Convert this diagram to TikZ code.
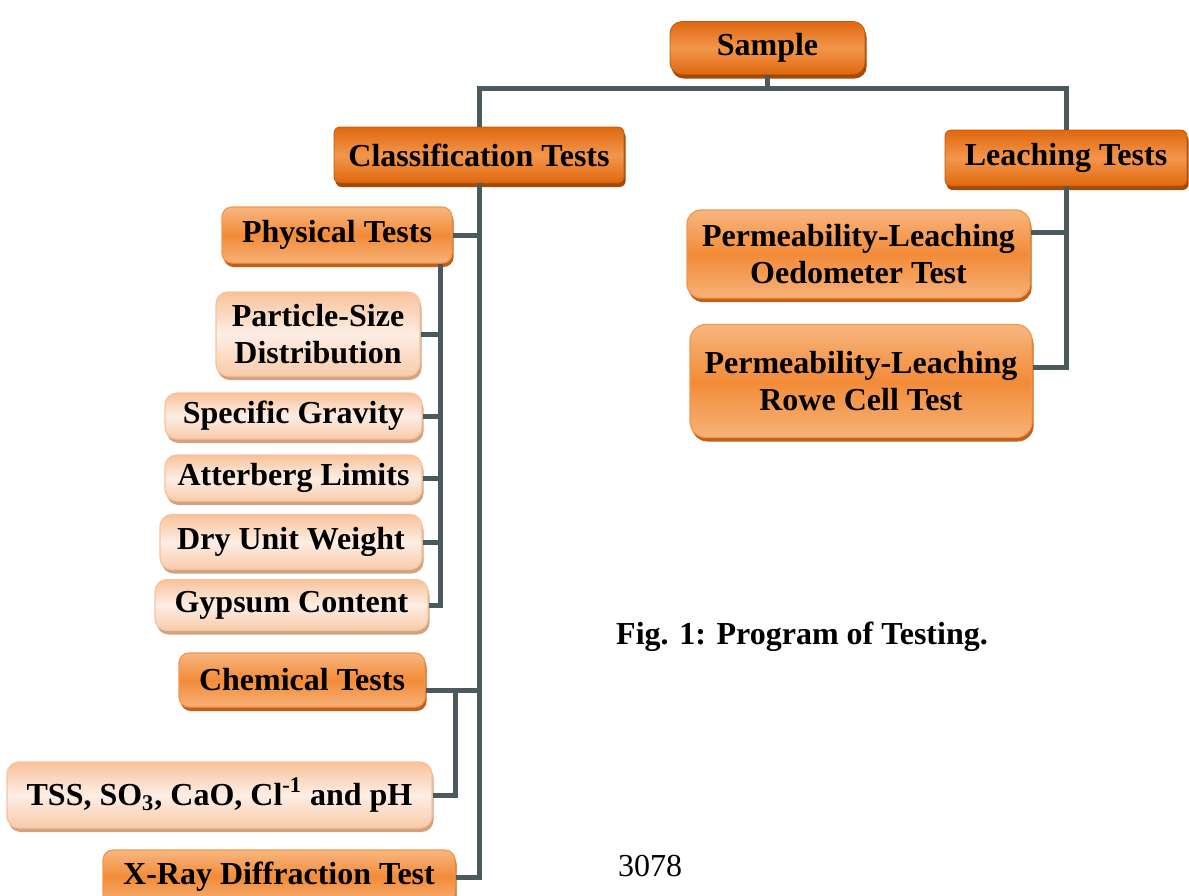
\documentclass[tikz,border=0pt]{standalone}
\usepackage{fontspec}
\setmainfont{Liberation Serif}
\usetikzlibrary{shadows}

\definecolor{linegray}{HTML}{4B5A5C}
\definecolor{darkor}{HTML}{E0680E}
\definecolor{darkormid}{HTML}{F2964C}
\definecolor{darkorsh}{HTML}{A34A08}
\definecolor{midor}{HTML}{F8B680}
\definecolor{midormid}{HTML}{F28B38}
\definecolor{midorsh}{HTML}{C0601A}
\definecolor{lightor}{HTML}{F8C29A}
\definecolor{lightormid}{HTML}{FDEEE5}
\definecolor{lightorsh}{HTML}{D0A386}

\tikzset{
  box/.style={inner sep=0pt, align=center, font=\fontsize{16}{18.5}\selectfont\bfseries},
  darkbox/.style={box, rounded corners=3pt, top color=darkor, bottom color=darkor, middle color=darkormid,
    draw=darkor!85!black, line width=0.4pt,
    general shadow={fill=darkorsh, shadow yshift=-2pt, shadow xshift=0.8pt}},
  midbox/.style={box, rounded corners=5pt, top color=midor, bottom color=midor!90!midormid, middle color=midormid,
    draw=midormid!90!white, line width=0.6pt,
    general shadow={fill=midorsh, shadow yshift=-2pt, shadow xshift=0.8pt}},
  lightbox/.style={box, rounded corners=6pt, top color=lightor, bottom color=lightor!80!lightormid, middle color=lightormid,
    draw=lightor, line width=0.6pt,
    general shadow={fill=lightorsh, shadow yshift=-2pt, shadow xshift=0.8pt}},
  link/.style={draw=linegray, line width=2.5pt},
}

\begin{document}
\begin{tikzpicture}[x=0.5pt,y=-0.5pt]
\useasboundingbox (0,0) rectangle (1189,895);

% top level
\node[darkbox, rounded corners=6pt, minimum width=97.5pt, minimum height=26.5pt] (sample) at (767.5,48) {Sample};
\node[darkbox, minimum width=145pt, minimum height=28pt] (classif) at (479,155) {Classification Tests};
\node[darkbox, minimum width=121pt, minimum height=28pt] (leach) at (1066,158) {Leaching Tests};

% classification branch
\node[midbox, minimum width=115pt, minimum height=28pt] (phys) at (337,235) {Physical Tests};
\node[lightbox, minimum width=102pt, minimum height=42pt] (psd) at (318,334) {Particle-Size\\Distribution};
\node[lightbox, minimum width=128.5pt, minimum height=23pt] (sg) at (293.5,416) {Specific Gravity};
\node[lightbox, minimum width=128.5pt, minimum height=23pt] (al) at (293.5,478) {Atterberg Limits};
\node[lightbox, minimum width=131pt, minimum height=27.5pt] (duw) at (291,542) {Dry Unit Weight};
\node[lightbox, minimum width=136.5pt, minimum height=25.5pt] (gyp) at (291.5,605) {Gypsum Content};
\node[midbox, minimum width=123pt, minimum height=27pt] (chem) at (302,680) {Chemical Tests};
\node[lightbox, minimum width=212.5pt, minimum height=33pt] (tss) at (219.5,795)
  {TSS, SO\textsubscript{3}, CaO, Cl\textsuperscript{-1} and pH};
\node[midbox, minimum width=176pt, minimum height=27pt] (xrd) at (279,877) {X-Ray Diffraction Test};

% leaching branch
\node[midbox, rounded corners=7pt, minimum width=171.5pt, minimum height=44pt] (plo) at (858.5,254)
  {Permeability-Leaching\\Oedometer Test};
\node[midbox, rounded corners=8pt, minimum width=171pt, minimum height=56.5pt] (plr) at (861,381)
  {Permeability-Leaching\\Rowe Cell Test};

\node[font=\fontsize{16}{19}\selectfont\bfseries] (caption) at (802,637) {Fig. 1: Program of Testing.};
\node[font=\fontsize{16}{19}\selectfont] (pagenum) at (650,866) {3078};

% connectors
\draw[link] (sample.south) -- ++(0,14) -| (classif.north);
\draw[link] (sample.south) ++(0,14) -| (leach.north);

\draw[link] (classif.south) |- (xrd.east);
\draw[link] (phys.east) -- (phys.east -| classif.south);
\draw[link] ([yshift=-5pt]chem.east) -- ([yshift=-5pt]chem.east -| classif.south);

\coordinate (physbus) at ([xshift=-6pt]phys.south east);
\draw[link] (physbus) |- (gyp.east);
\foreach \n in {psd,sg,al,duw}
  \draw[link] (\n.east) -- (\n.east -| physbus);

\coordinate (chembus) at ([xshift=15pt,yshift=-5pt]chem.east);
\draw[link] (chembus) |- (tss.east);

\draw[link] ([yshift=11pt]plo.east) -- ([yshift=11pt]plo.east -| leach.south);
\draw[link] (leach.south) |- ([yshift=7pt]plr.east);
\end{tikzpicture}
\end{document}
